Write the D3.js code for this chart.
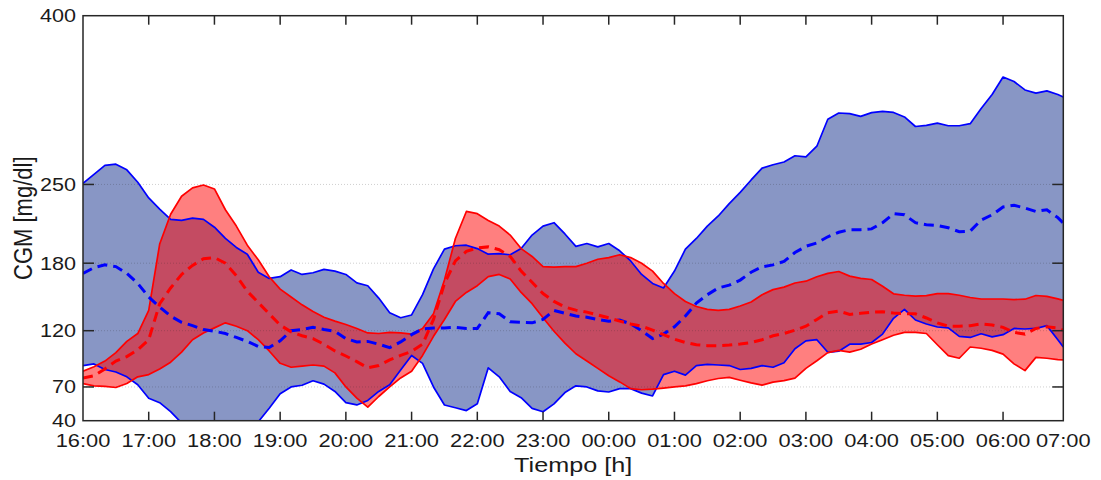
<!DOCTYPE html>
<html><head><meta charset="utf-8">
<script src="https://cdn.jsdelivr.net/npm/d3@7"></script>
<style>
body{margin:0;background:#fff}
svg{display:block}
text{font-family:"Liberation Sans",Arial,Helvetica,sans-serif;fill:#1a1a1a}
</style>
</head><body>
<svg id="chart" width="1101" height="480"></svg>
<script>
// time in minutes after 16:00
const minutes = [0,10,20,30,40,50,60,70,80,90,100,110,120,130,140,150,160,170,180,190,200,210,220,230,240,250,260,270,280,290,300,310,320,330,340,350,360,370,380,390,400,410,420,430,440,450,460,470,480,490,500,510,520,530,540,550,560,570,580,590,600,610,620,630,640,650,660,670,680,690,700,710,720,730,740,750,760,770,780,790,800,810,820,830,840,850,860,870,880,890,895];

const blueUpper = [251,259,267,268,263,252,238,228,219,218,220,219,212,202,194,188,
  172,166.5,168,174,170,171.5,174.5,173,170,162.5,160,149,136,131.5,
  134,152,175,192.5,195.5,196,193,188,188.5,187.5,193,205,213,216,206,
  195,197.5,194.5,197.5,191,182,170,162,158,173,192.5,202,213,222,233,
  243,254,264.5,267.5,270,275.5,274.5,284,308,313.5,313,310.5,313.8,315,314,
  310,301.5,302.5,304.5,302.2,302.2,304,317.5,330,345.5,341.5,334,331.2,333.2,330,327.7];

const blueLower = [89,90.5,85.5,83.3,79,72,60,56,48,38,32,27,23,22,26,33,
  39,51,64,70,71.5,75.5,72.5,66,56,54,58,66,72,85,
  98,91,70,54,51.5,49,55,87,79,66,60.5,51,48,55,65,
  71,70,66.5,65.5,68.5,68.5,64.5,62,81,84,80.5,89,90,89.5,89,
  85.5,86.5,89,87.5,91.5,104,111,112,100.8,101.8,108,108,109.5,117,131,
  139,129.5,126,123.3,122.5,115,114,117.3,114.5,116.5,122,121.5,122,124.5,112,105.5];

const blueMedian = [171,176,178.5,177,171,162,150,141,133,127.5,124.5,121,119.5,117.5,114,110.5,
  106,105,111,120,121,123,121,119.5,113,110,110.5,108,105,110,
  116.5,121.5,122.5,122.5,123,122,122,136,135,128,127.5,127,130,138,135.5,
  133,132,130,128.5,129.5,126,120,113,117,123.5,133,144.5,152,158,160.5,
  165,172,176.8,178.5,181.5,189.5,195,198,203.5,207.5,209.8,209.8,210.5,216,224,
  223,216,214.2,213.5,211.5,208,208.5,218.3,223,230,231.5,229,226,227.5,220.5,215.7];

const redUpper = [84,88,93,100.5,110.5,117.5,138,197,223.5,239.5,247,249.5,246,227.5,213,196,
  183,168,157,150,143,137,132,128.5,125.5,122,118,117.5,118.5,118,
  117,122,135,165,202,226,224,218,213,205,193,186,177,176.5,177,
  177,180,183.5,185,187.5,185,180,173,162,153,146,141.5,139,138,139,
  142,145.5,152,156.5,158.7,162.4,164,168,171,172.6,168.5,166.5,165.5,159.5,152.8,
  151.5,150.8,151.2,153,153,151.5,149.5,148.2,148.2,148.2,147.7,148,151.3,150.5,148.3,147];

const redLower = [73,71,70.5,69.5,73,79,81,86,92,101,112,118,122.5,127,124,120,
  112,102,91,87.5,88.5,89.5,88.5,82.5,70,60,52,61.5,70,78,
  84,98,115,130,146,154,160,168,170,166,154,144,131.5,119.5,109,
  99.5,93,86.5,80,74.5,68.5,67.5,68,69,70,71,73,75.5,77.5,78.5,
  76,73.6,71.6,74.3,75.6,77.8,86.5,93.3,100.5,102.5,101,103.5,108.2,112,116,
  118.5,118.5,117.5,107.5,97.8,95.5,105.5,104.4,102.5,99.2,90.5,84.5,96.3,95.5,94.3,94];

const redMedian = [78,80,86,93,97,103,112,144,158,170,178,184,185,180,169,155,
  145,135,125,119,115.5,113,108,102,97.5,92.5,87,89,94,98,
  101.5,108,130,162,182,190.5,193.5,194.5,192,186,173,163,153,146,141,
  138.3,136.5,134,131.5,128.5,126,124,120.5,116.5,112.5,109.5,107.5,106.7,106.7,107.3,
  108.2,109.5,112,115.5,117.5,120.5,124,130,136,137.5,134.5,135.5,136.5,136.8,135.8,
  135.2,135,131.3,127,124,124,124.5,126,125,123,118.5,117,122,123.5,122.5,120.5];

const yTicks = [40,70,120,180,250,400];
const yGrid = [70,120,180,250];
const xTickMinutes = [0,60,120,180,240,300,360,420,480,540,600,660,720,780,840,895];
const xTickLabels = ["16:00","17:00","18:00","19:00","20:00","21:00","22:00","23:00","00:00","01:00","02:00","03:00","04:00","05:00","06:00","07:00"];

const L = 83, R = 1063.3, T = 15.7, B = 420.7;
const svg = d3.select("#chart");
const x = d3.scaleLinear().domain([0, 895]).range([L, R]);
const y = d3.scaleLinear().domain([40, 400]).range([B, T]);

svg.append("defs").append("clipPath").attr("id","clip")
  .append("rect").attr("x",L).attr("y",T).attr("width",R-L).attr("height",B-T);

const idx = d3.range(minutes.length);
const band = (lo, hi) => d3.area().x(i => x(minutes[i])).y0(i => y(lo[i])).y1(i => y(hi[i]));
const line = (arr) => d3.line().x(i => x(minutes[i])).y(i => y(arr[i]));

const g = svg.append("g").attr("clip-path","url(#clip)");
g.append("path").attr("d", band(blueLower, blueUpper)(idx)).attr("fill","#8896c5");
g.append("path").attr("d", band(redLower, redUpper)(idx)).attr("fill","#ff0000").attr("fill-opacity",0.5);

// grid
svg.append("g").selectAll("line").data(yGrid).join("line")
  .attr("x1",L).attr("x2",R).attr("y1",d=>y(d)).attr("y2",d=>y(d))
  .attr("stroke","#262626").attr("stroke-opacity",0.22).attr("stroke-dasharray","1,2").attr("stroke-width",1);

const lines = svg.append("g").attr("clip-path","url(#clip)").attr("fill","none");
[[blueUpper,"#0000ff"],[blueLower,"#0000ff"],[redUpper,"#ff0000"],[redLower,"#ff0000"]].forEach(([a,c])=>{
  lines.append("path").attr("d", line(a)(idx)).attr("stroke",c).attr("stroke-width",1.7).attr("stroke-linejoin","round");
});
lines.append("path").attr("d", line(blueMedian)(idx)).attr("stroke","#0000ff").attr("stroke-width",3).attr("stroke-dasharray","10,6");
lines.append("path").attr("d", line(redMedian)(idx)).attr("stroke","#ff0000").attr("stroke-width",3).attr("stroke-dasharray","10,6");

// frame and ticks
const ax = svg.append("g").attr("stroke","#262626").attr("stroke-width",1.5);
ax.append("rect").attr("x",L).attr("y",T).attr("width",R-L).attr("height",B-T).attr("fill","none");
const innerX = xTickMinutes.filter(m => m > 0 && m < 895);
innerX.forEach(m => {
  ax.append("line").attr("x1",x(m)).attr("x2",x(m)).attr("y1",B).attr("y2",B-9);
  ax.append("line").attr("x1",x(m)).attr("x2",x(m)).attr("y1",T).attr("y2",T+9);
});
yTicks.filter(v => v > 40 && v < 400).forEach(v => {
  ax.append("line").attr("x1",L).attr("x2",L+11).attr("y1",y(v)).attr("y2",y(v));
  ax.append("line").attr("x1",R).attr("x2",R-11).attr("y1",y(v)).attr("y2",y(v));
});

// labels
const SX = 1.2;
svg.append("g").selectAll("text").data(yTicks).join("text")
  .attr("transform", d => `translate(76,${y(d)+6.5}) scale(${SX},1)`)
  .attr("text-anchor","end").attr("font-size",18).text(d => d);
svg.append("g").selectAll("text").data(xTickMinutes).join("text")
  .attr("transform", (d,i) => `translate(${x(d)},${446.5}) scale(1.15,1)`)
  .attr("text-anchor","middle").attr("font-size",19).text((d,i) => xTickLabels[i]);
svg.append("text").attr("transform",`translate(${(L+R)/2},472) scale(${SX},1)`)
  .attr("text-anchor","middle").attr("font-size",21).text("Tiempo [h]");
svg.append("text").attr("transform",`translate(31.5,${(T+B)/2}) scale(${SX},1) rotate(-90)`)
  .attr("text-anchor","middle").attr("font-size",22).text("CGM [mg/dl]");
</script>
</body></html>
